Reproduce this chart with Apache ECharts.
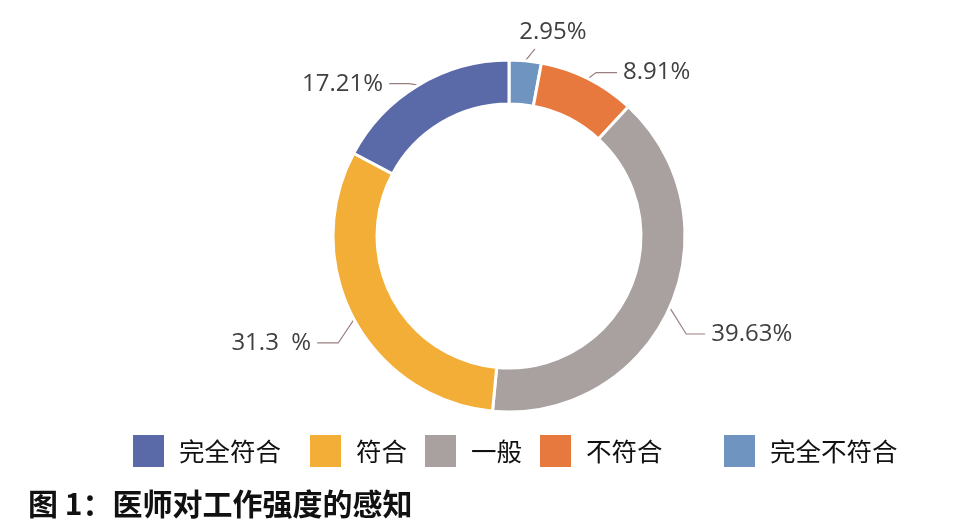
<!DOCTYPE html>
<html>
<head>
<meta charset="utf-8">
<script src="https://cdn.jsdelivr.net/npm/echarts@6/dist/echarts.min.js"></script>
<style>
html,body{margin:0;padding:0;background:#ffffff;}
#main{width:974px;height:530px;}
</style>
</head>
<body>
<div id="main"></div>
<script>
// Data (clockwise from 12 o'clock)
var categories = ['完全不符合', '不符合', '一般', '符合', '完全符合'];
var values = [2.95, 8.91, 39.63, 31.3, 17.21];
var valueLabels = ['2.95%', '8.91%', '39.63%', '31.3  %', '17.21%'];
var legendOrder = ['完全符合', '符合', '一般', '不符合', '完全不符合'];
var colors = {
  '完全不符合': '#6f94c0',
  '不符合': '#e7793f',
  '一般': '#a8a19f',
  '符合': '#f3ae38',
  '完全符合': '#5a69a7'
};
var titleText = '图 1：医师对工作强度的感知';

var FONT = '"Noto Sans CJK SC", "Noto Sans", sans-serif';
var chart = echarts.init(document.getElementById('main'), null, {renderer: 'canvas'});

var pieData = categories.map(function (c, i) {
  return { name: c, value: values[i], itemStyle: { color: colors[c] } };
});

var legendLefts = [126, 303, 418, 533, 717];
var legends = legendOrder.map(function (name, i) {
  return {
    data: [name],
    left: legendLefts[i],
    top: 428,
    orient: 'horizontal',
    itemWidth: 33,
    itemHeight: 34,
    icon: 'rect',
    selectedMode: false,
    textStyle: { fontSize: 25.5, color: '#111', fontFamily: FONT, padding: [0, 0, 0, 9] }
  };
});

// label nudges (layout only), per slice index
var nudgeX = [4, 8, 6, -8, -7];
var nudgeY = [10, 10, 19, 15, 14];

var option = {
  backgroundColor: '#ffffff',
  animation: false,
  title: {
    text: titleText,
    left: 23,
    top: 484,
    textStyle: { fontSize: 30, fontWeight: 'bold', color: '#111', fontFamily: FONT }
  },
  legend: legends,
  series: [{
    type: 'pie',
    center: [509, 236],
    radius: [132, 176],
    startAngle: 90,
    clockwise: true,
    avoidLabelOverlap: false,
    itemStyle: { borderColor: '#ffffff', borderWidth: 3 },
    label: {
      show: true,
      position: 'outside',
      fontSize: 24,
      color: '#404040',
      fontFamily: '"Open Sans", "Noto Sans", sans-serif',
      distanceToLabelLine: 6,
      formatter: function (p) { return valueLabels[p.dataIndex]; }
    },
    labelLine: {
      show: true,
      length: 18,
      length2: 13,
      lineStyle: { color: '#9c7e80', width: 1.2 }
    },
    labelLayout: function (p) {
      var pts = p.labelLinePoints;
      if (!pts) return {};
      var i = p.dataIndex;
      var a = pts[0], b = pts[1], c = pts[2];
      var dy = nudgeY[i], dx = nudgeX[i];
      if (i === 0) {
        var tip = [b[0] + 8, b[1] - 4 + dy];
        return {
          x: tip[0] + 14 + dx,
          y: tip[1] - 17,
          align: 'center',
          verticalAlign: 'middle',
          labelLinePoints: [a, tip, tip]
        };
      }
      return {
        dx: dx,
        dy: dy,
        labelLinePoints: [a, [b[0], b[1] + dy], [c[0] + dx, c[1] + dy]]
      };
    },
    data: pieData
  }]
};
chart.setOption(option);
</script>
</body>
</html>
